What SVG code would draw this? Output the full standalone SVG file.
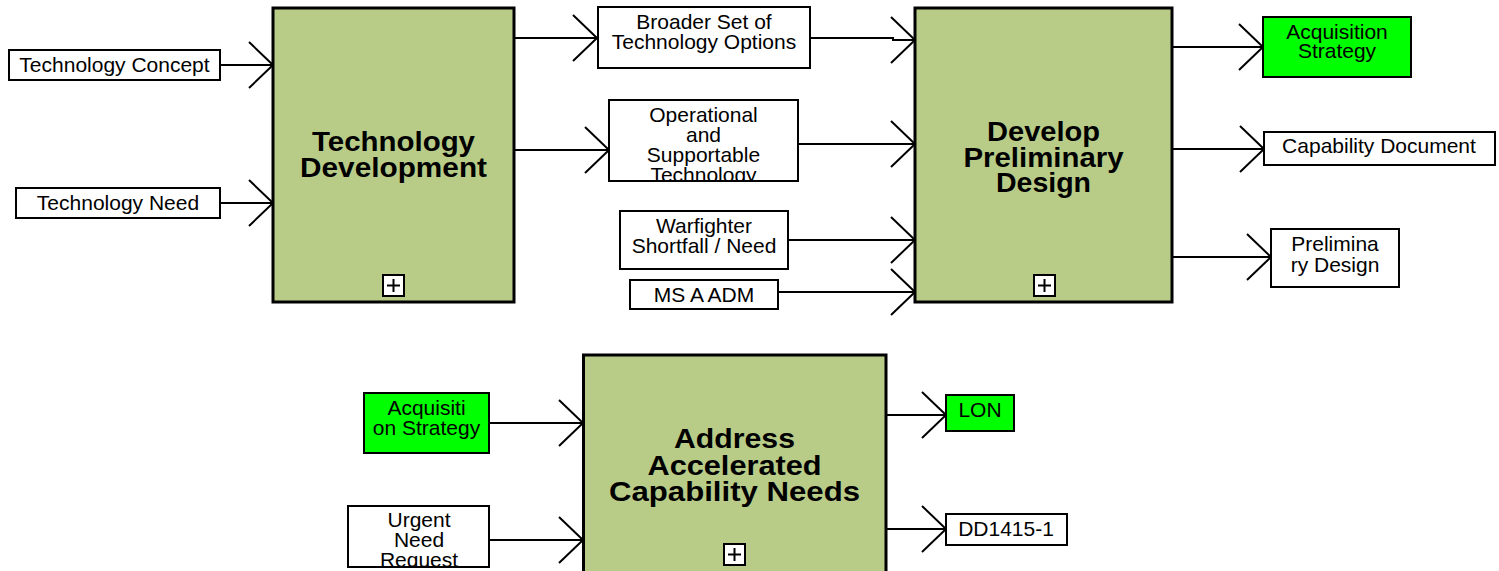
<svg xmlns="http://www.w3.org/2000/svg" width="1499" height="571" viewBox="0 0 1499 571">
<style>
.act{fill:#b8cc88;stroke:#000;stroke-width:3}
.box{fill:#fff;stroke:#000;stroke-width:2}
.grn{fill:#00ff00;stroke:#000;stroke-width:2}
.t{font-family:"Liberation Sans",Arial,sans-serif;font-size:21px;text-anchor:middle;fill:#000}
.h{font-family:"Liberation Sans",Arial,sans-serif;font-size:27px;font-weight:bold;text-anchor:middle;fill:#000}
.pl{fill:#fff;stroke:#000;stroke-width:2}
.pls{stroke:#000;stroke-width:2;fill:none}
.c{fill:none;stroke:#000;stroke-width:2;marker-end:url(#ah)}
</style>
<defs>
<marker id="ah" markerUnits="userSpaceOnUse" viewBox="-2 -2 30 50" refX="24" refY="23" markerWidth="30" markerHeight="50" orient="auto" overflow="visible">
<path d="M0,0 L24,23 L0,46" fill="none" stroke="#000" stroke-width="2"/>
</marker>
<clipPath id="clipOp"><rect x="609" y="100" width="189" height="81"/></clipPath>
<clipPath id="clipUr"><rect x="348" y="506" width="141" height="61"/></clipPath>
</defs>

<g id="connectors">
<path class="c" d="M220,65 H273"/>
<path class="c" d="M220,203 H273"/>
<path class="c" d="M514,38 H597"/>
<path class="c" d="M514,150 H609"/>
<path class="c" d="M810,38 H893 V40 H915"/>
<path class="c" d="M798,144 H915"/>
<path class="c" d="M788,240 H915"/>
<path class="c" d="M778,292 H915"/>
<path class="c" d="M1172,47 H1263"/>
<path class="c" d="M1172,149 H1264"/>
<path class="c" d="M1172,257 H1271"/>
<path class="c" d="M489,423 H583"/>
<path class="c" d="M489,540 H583"/>
<path class="c" d="M886,415 H946"/>
<path class="c" d="M886,529 H946"/>
</g>

<g id="technology-development">
<rect class="act" x="273" y="8" width="241" height="294"/>
<text class="h" x="393.5" y="151" textLength="163" lengthAdjust="spacingAndGlyphs">Technology</text>
<text class="h" x="393.5" y="177" textLength="187" lengthAdjust="spacingAndGlyphs">Development</text>
<rect class="pl" x="383" y="275" width="21" height="21"/>
<path class="pls" d="M387,285.5 H400 M393.5,279 V292"/>
</g>

<g id="develop-preliminary-design">
<rect class="act" x="915" y="8" width="257" height="294"/>
<text class="h" x="1043.5" y="141" textLength="113" lengthAdjust="spacingAndGlyphs">Develop</text>
<text class="h" x="1043.5" y="167" textLength="160" lengthAdjust="spacingAndGlyphs">Preliminary</text>
<text class="h" x="1043.5" y="192" textLength="95" lengthAdjust="spacingAndGlyphs">Design</text>
<rect class="pl" x="1034" y="275" width="21" height="21"/>
<path class="pls" d="M1038,285.5 H1051 M1044.5,279 V292"/>
</g>

<g id="address-accelerated-capability-needs">
<rect class="act" x="583.5" y="355" width="302.5" height="230"/>
<text class="h" x="734.5" y="448" textLength="121" lengthAdjust="spacingAndGlyphs">Address</text>
<text class="h" x="734.5" y="475" textLength="174" lengthAdjust="spacingAndGlyphs">Accelerated</text>
<text class="h" x="734.5" y="501" textLength="251" lengthAdjust="spacingAndGlyphs">Capability Needs</text>
<rect class="pl" x="724" y="544" width="21" height="21"/>
<path class="pls" d="M728,554.5 H741 M734.5,548 V561"/>
</g>

<g id="technology-concept">
<rect class="box" x="9" y="50" width="211" height="30"/>
<text class="t" x="114.5" y="72">Technology Concept</text>
</g>

<g id="technology-need">
<rect class="box" x="16" y="188" width="204" height="30"/>
<text class="t" x="118" y="210">Technology Need</text>
</g>

<g id="broader-set">
<rect class="box" x="598" y="7" width="212" height="61"/>
<text class="t" x="704" y="29">Broader Set of</text>
<text class="t" x="704" y="49">Technology Options</text>
</g>

<g id="operational-supportable">
<rect class="box" x="609" y="100" width="189" height="81"/>
<g clip-path="url(#clipOp)">
<text class="t" x="703.5" y="121.5">Operational</text>
<text class="t" x="703.5" y="141.5">and</text>
<text class="t" x="703.5" y="161.5">Supportable</text>
<text class="t" x="703.5" y="181.5">Technology</text>
</g>
<rect x="609" y="100" width="189" height="81" fill="none" stroke="#000" stroke-width="2"/>
</g>

<g id="warfighter-shortfall">
<rect class="box" x="620" y="211" width="168" height="58"/>
<text class="t" x="704" y="233">Warfighter</text>
<text class="t" x="704" y="253">Shortfall / Need</text>
</g>

<g id="ms-a-adm">
<rect class="box" x="630" y="280" width="148" height="29"/>
<text class="t" x="704" y="301.5">MS A ADM</text>
</g>

<g id="acquisition-strategy-out">
<rect class="grn" x="1263" y="17" width="148" height="60"/>
<text class="t" x="1337" y="39">Acquisition</text>
<text class="t" x="1337" y="58">Strategy</text>
</g>

<g id="capability-document">
<rect class="box" x="1264" y="132" width="231" height="33"/>
<text class="t" x="1379" y="153">Capability Document</text>
</g>

<g id="preliminary-design">
<rect class="box" x="1271" y="229" width="128" height="58"/>
<text class="t" x="1335" y="250.5">Prelimina</text>
<text class="t" x="1335" y="271.5">ry Design</text>
</g>

<g id="acquisition-strategy-in">
<rect class="grn" x="364" y="393" width="125" height="60"/>
<text class="t" x="426.5" y="415">Acquisiti</text>
<text class="t" x="426.5" y="435">on Strategy</text>
</g>

<g id="urgent-need-request">
<rect class="box" x="348" y="506" width="141" height="61"/>
<g clip-path="url(#clipUr)">
<text class="t" x="419" y="527">Urgent</text>
<text class="t" x="419" y="547">Need</text>
<text class="t" x="419" y="567">Request</text>
</g>
<rect x="348" y="506" width="141" height="61" fill="none" stroke="#000" stroke-width="2"/>
</g>

<g id="lon">
<rect class="grn" x="946" y="395" width="68" height="36"/>
<text class="t" x="980" y="417">LON</text>
</g>

<g id="dd1415">
<rect class="box" x="946" y="514" width="121" height="31"/>
<text class="t" x="1006" y="536">DD1415-1</text>
</g>
</svg>
